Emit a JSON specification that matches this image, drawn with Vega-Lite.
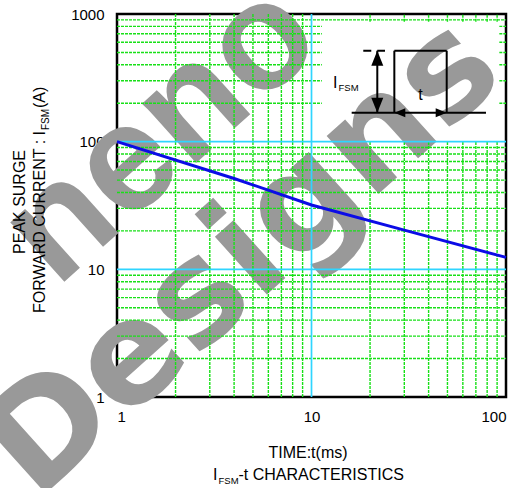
{
  "$schema": "https://vega.github.io/schema/vega-lite/v6.json",
  "width": 389,
  "height": 383,
  "autosize": {"type": "none"},
  "padding": {"left": 117, "top": 14, "right": 15, "bottom": 91},
  "background": "white",
  "config": {
    "view": {"stroke": "black", "strokeWidth": 2.5},
    "axis": {"grid": false, "ticks": false, "domain": false, "labelFont": "Liberation Sans", "labelFontSize": 15, "labelColor": "black", "zindex": 1},
    "text": {"font": "Liberation Sans", "color": "black"}
  },
  "datasets": {
    "one": [{}],
    "vgrid": [
      {"x": 2, "y1": 1, "y2": 1000}, {"x": 3, "y1": 1, "y2": 1000}, {"x": 4, "y1": 1, "y2": 1000}, {"x": 5, "y1": 1, "y2": 1000},
      {"x": 6, "y1": 1, "y2": 1000}, {"x": 7, "y1": 1, "y2": 1000}, {"x": 8, "y1": 1, "y2": 1000}, {"x": 9, "y1": 1, "y2": 1000},
      {"x": 20, "y1": 1, "y2": 100}, {"x": 20, "y1": 870, "y2": 1000},
      {"x": 30, "y1": 1, "y2": 100}, {"x": 30, "y1": 870, "y2": 1000},
      {"x": 40, "y1": 1, "y2": 100}, {"x": 40, "y1": 870, "y2": 1000},
      {"x": 50, "y1": 1, "y2": 100}, {"x": 50, "y1": 870, "y2": 1000},
      {"x": 60, "y1": 1, "y2": 100}, {"x": 60, "y1": 870, "y2": 1000},
      {"x": 70, "y1": 1, "y2": 100}, {"x": 70, "y1": 870, "y2": 1000},
      {"x": 80, "y1": 1, "y2": 100}, {"x": 80, "y1": 870, "y2": 1000},
      {"x": 90, "y1": 1, "y2": 100}, {"x": 90, "y1": 870, "y2": 1000}
    ],
    "hgrid": [
      {"y": 2, "x1": 1, "x2": 100}, {"y": 3, "x1": 1, "x2": 100}, {"y": 4, "x1": 1, "x2": 100}, {"y": 5, "x1": 1, "x2": 100},
      {"y": 6, "x1": 1, "x2": 100}, {"y": 7, "x1": 1, "x2": 100}, {"y": 8, "x1": 1, "x2": 100}, {"y": 9, "x1": 1, "x2": 100},
      {"y": 20, "x1": 1, "x2": 100}, {"y": 30, "x1": 1, "x2": 100}, {"y": 40, "x1": 1, "x2": 100}, {"y": 50, "x1": 1, "x2": 100},
      {"y": 60, "x1": 1, "x2": 100}, {"y": 70, "x1": 1, "x2": 100}, {"y": 80, "x1": 1, "x2": 100}, {"y": 90, "x1": 1, "x2": 100},
      {"y": 200, "x1": 1, "x2": 11.3}, {"y": 200, "x1": 92.4, "x2": 100},
      {"y": 300, "x1": 1, "x2": 11.3}, {"y": 300, "x1": 92.4, "x2": 100},
      {"y": 400, "x1": 1, "x2": 11.3}, {"y": 400, "x1": 92.4, "x2": 100},
      {"y": 500, "x1": 1, "x2": 11.3}, {"y": 500, "x1": 92.4, "x2": 100},
      {"y": 600, "x1": 1, "x2": 11.3}, {"y": 600, "x1": 92.4, "x2": 100},
      {"y": 700, "x1": 1, "x2": 11.3}, {"y": 700, "x1": 92.4, "x2": 100},
      {"y": 800, "x1": 1, "x2": 11.3}, {"y": 800, "x1": 92.4, "x2": 100},
      {"y": 900, "x1": 1, "x2": 100}
    ],
    "major": [{"y": 10}, {"y": 100}],
    "inset": [
      {"x": 16.09, "y": 168.6, "x2": 78.9, "y2": 168.6},
      {"x": 26.66, "y": 168.6, "x2": 26.66, "y2": 515.9},
      {"x": 26.66, "y": 515.9, "x2": 49.56, "y2": 515.9},
      {"x": 49.56, "y": 515.9, "x2": 49.56, "y2": 168.6},
      {"x": 21.79, "y": 168.6, "x2": 21.79, "y2": 515.9}
    ],
    "arrows": [
      {"x": 21.79, "y": 515.9, "dir": "up"},
      {"x": 21.79, "y": 168.6, "dir": "down"},
      {"x": 26.66, "y": 168.6, "dir": "left"},
      {"x": 49.56, "y": 168.6, "dir": "right"}
    ],
    "curve": [
      {"t": 1, "i": 100},
      {"t": 4, "i": 51.5},
      {"t": 10, "i": 31.9},
      {"t": 30, "i": 20.3},
      {"t": 100, "i": 12.4}
    ]
  },
  "layer": [
    {
      "data": {"name": "one"},
      "mark": {"type": "text", "text": "neno", "angle": -42, "font": "Liberation Sans", "fontWeight": "bold", "fontSize": 152, "color": "#999999", "align": "center", "baseline": "middle"},
      "encoding": {
        "x": {"datum": 1.674, "type": "quantitative", "scale": {"type": "log", "domain": [1, 100]}, "axis": {"values": [1, 10, 100], "format": "d", "title": null, "labelPadding": 12}},
        "y": {"datum": 116.9, "type": "quantitative", "scale": {"type": "log", "domain": [1, 1000]}, "axis": {"values": [1, 10, 100, 1000], "format": "d", "title": null, "labelPadding": 13}}
      }
    },
    {
      "data": {"name": "one"},
      "mark": {"type": "text", "text": "Designs", "angle": -42, "font": "DejaVu Sans", "fontWeight": "bold", "fontSize": 142, "color": "#999999", "align": "center", "baseline": "middle"},
      "encoding": {
        "x": {"datum": 4.444, "type": "quantitative", "scale": {"type": "log", "domain": [1, 100]}, "axis": {"values": [1, 10, 100], "format": "d", "title": null, "labelPadding": 12}},
        "y": {"datum": 12.27, "type": "quantitative", "scale": {"type": "log", "domain": [1, 1000]}, "axis": {"values": [1, 10, 100, 1000], "format": "d", "title": null, "labelPadding": 13}}
      }
    },
    {
      "data": {"name": "vgrid"},
      "mark": {"type": "rule", "color": "#18e018", "strokeWidth": 1.4, "strokeDash": [3, 1]},
      "encoding": {
        "x": {"field": "x", "type": "quantitative", "scale": {"type": "log", "domain": [1, 100]}, "axis": {"values": [1, 10, 100], "format": "d", "title": null, "labelPadding": 12}},
        "y": {"field": "y1", "type": "quantitative", "scale": {"type": "log", "domain": [1, 1000]}, "axis": {"values": [1, 10, 100, 1000], "format": "d", "title": null, "labelPadding": 13}},
        "y2": {"field": "y2"}
      }
    },
    {
      "data": {"name": "hgrid"},
      "mark": {"type": "rule", "color": "#18e018", "strokeWidth": 1.4, "strokeDash": [3, 1]},
      "encoding": {
        "y": {"field": "y", "type": "quantitative", "scale": {"type": "log", "domain": [1, 1000]}, "axis": {"values": [1, 10, 100, 1000], "format": "d", "title": null, "labelPadding": 13}},
        "x": {"field": "x1", "type": "quantitative", "scale": {"type": "log", "domain": [1, 100]}, "axis": {"values": [1, 10, 100], "format": "d", "title": null, "labelPadding": 12}},
        "x2": {"field": "x2"}
      }
    },
    {
      "data": {"name": "one"},
      "mark": {"type": "rule", "color": "#2fd5ff", "strokeWidth": 1.7},
      "encoding": {
        "x": {"datum": 10, "type": "quantitative", "scale": {"type": "log", "domain": [1, 100]}, "axis": {"values": [1, 10, 100], "format": "d", "title": null, "labelPadding": 12}}
      }
    },
    {
      "data": {"name": "major"},
      "mark": {"type": "rule", "color": "#2fd5ff", "strokeWidth": 1.7},
      "encoding": {
        "y": {"field": "y", "type": "quantitative", "scale": {"type": "log", "domain": [1, 1000]}, "axis": {"values": [1, 10, 100, 1000], "format": "d", "title": null, "labelPadding": 13}}
      }
    },
    {
      "data": {"name": "inset"},
      "mark": {"type": "rule", "color": "black", "strokeWidth": 2},
      "encoding": {
        "x": {"field": "x", "type": "quantitative", "scale": {"type": "log", "domain": [1, 100]}, "axis": {"values": [1, 10, 100], "format": "d", "title": null, "labelPadding": 12}},
        "y": {"field": "y", "type": "quantitative", "scale": {"type": "log", "domain": [1, 1000]}, "axis": {"values": [1, 10, 100, 1000], "format": "d", "title": null, "labelPadding": 13}},
        "x2": {"field": "x2"},
        "y2": {"field": "y2"}
      }
    },
    {
      "data": {"name": "one"},
      "mark": {"type": "rule", "color": "black", "strokeWidth": 2, "strokeDash": [8, 6]},
      "encoding": {
        "x": {"datum": 18.46, "type": "quantitative", "scale": {"type": "log", "domain": [1, 100]}, "axis": {"values": [1, 10, 100], "format": "d", "title": null, "labelPadding": 12}},
        "x2": {"datum": 23.87},
        "y": {"datum": 515.9, "type": "quantitative", "scale": {"type": "log", "domain": [1, 1000]}, "axis": {"values": [1, 10, 100, 1000], "format": "d", "title": null, "labelPadding": 13}}
      }
    },
    {
      "data": {"name": "arrows"},
      "mark": {"type": "point", "filled": true, "color": "black", "opacity": 1, "size": 100, "strokeWidth": 0},
      "encoding": {
        "x": {"field": "x", "type": "quantitative", "scale": {"type": "log", "domain": [1, 100]}, "axis": {"values": [1, 10, 100], "format": "d", "title": null, "labelPadding": 12}},
        "y": {"field": "y", "type": "quantitative", "scale": {"type": "log", "domain": [1, 1000]}, "axis": {"values": [1, 10, 100, 1000], "format": "d", "title": null, "labelPadding": 13}},
        "shape": {"field": "dir", "type": "nominal", "legend": null,
          "scale": {"domain": ["up", "down", "left", "right"],
                    "range": ["M0,0L1.2,3L-1.2,3Z", "M0,0L1.2,-3L-1.2,-3Z", "M0,0L2.2,-0.9L2.2,0.9Z", "M0,0L-2.2,-0.9L-2.2,0.9Z"]}}
      }
    },
    {
      "data": {"name": "one"},
      "mark": {"type": "text", "text": "I", "fontSize": 16, "align": "right", "baseline": "alphabetic"},
      "encoding": {
        "x": {"datum": 13.61, "type": "quantitative", "scale": {"type": "log", "domain": [1, 100]}, "axis": {"values": [1, 10, 100], "format": "d", "title": null, "labelPadding": 12}},
        "y": {"datum": 261.8, "type": "quantitative", "scale": {"type": "log", "domain": [1, 1000]}, "axis": {"values": [1, 10, 100, 1000], "format": "d", "title": null, "labelPadding": 13}}
      }
    },
    {
      "data": {"name": "one"},
      "mark": {"type": "text", "text": "FSM", "fontSize": 9.5, "align": "left", "baseline": "alphabetic", "dx": 1, "dy": 3},
      "encoding": {
        "x": {"datum": 13.61, "type": "quantitative", "scale": {"type": "log", "domain": [1, 100]}, "axis": {"values": [1, 10, 100], "format": "d", "title": null, "labelPadding": 12}},
        "y": {"datum": 261.8, "type": "quantitative", "scale": {"type": "log", "domain": [1, 1000]}, "axis": {"values": [1, 10, 100, 1000], "format": "d", "title": null, "labelPadding": 13}}
      }
    },
    {
      "data": {"name": "one"},
      "mark": {"type": "text", "text": "t", "fontSize": 16, "align": "center", "baseline": "alphabetic"},
      "encoding": {
        "x": {"datum": 36.35, "type": "quantitative", "scale": {"type": "log", "domain": [1, 100]}, "axis": {"values": [1, 10, 100], "format": "d", "title": null, "labelPadding": 12}},
        "y": {"datum": 212.1, "type": "quantitative", "scale": {"type": "log", "domain": [1, 1000]}, "axis": {"values": [1, 10, 100, 1000], "format": "d", "title": null, "labelPadding": 13}}
      }
    },
    {
      "data": {"name": "curve"},
      "mark": {"type": "line", "color": "#0c0ce6", "strokeWidth": 3},
      "encoding": {
        "x": {"field": "t", "type": "quantitative", "scale": {"type": "log", "domain": [1, 100]}, "axis": {"values": [1, 10, 100], "format": "d", "title": null, "labelPadding": 12}},
        "y": {"field": "i", "type": "quantitative", "scale": {"type": "log", "domain": [1, 1000]}, "axis": {"values": [1, 10, 100, 1000], "format": "d", "title": null, "labelPadding": 13}}
      }
    },
    {
      "data": {"name": "one"},
      "mark": {"type": "text", "text": "PEAK SURGE", "fontSize": 16, "angle": -90, "align": "center", "baseline": "alphabetic"},
      "encoding": {
        "x": {"datum": 0.3385, "type": "quantitative", "scale": {"type": "log", "domain": [1, 100]}, "axis": {"values": [1, 10, 100], "format": "d", "title": null, "labelPadding": 12}},
        "y": {"datum": 33.69, "type": "quantitative", "scale": {"type": "log", "domain": [1, 1000]}, "axis": {"values": [1, 10, 100, 1000], "format": "d", "title": null, "labelPadding": 13}}
      }
    },
    {
      "data": {"name": "one"},
      "mark": {"type": "text", "text": "FORWARD CURRENT : I", "fontSize": 16, "angle": -90, "align": "right", "baseline": "alphabetic"},
      "encoding": {
        "x": {"datum": 0.4264, "type": "quantitative", "scale": {"type": "log", "domain": [1, 100]}, "axis": {"values": [1, 10, 100], "format": "d", "title": null, "labelPadding": 12}},
        "y": {"datum": 121.2, "type": "quantitative", "scale": {"type": "log", "domain": [1, 1000]}, "axis": {"values": [1, 10, 100, 1000], "format": "d", "title": null, "labelPadding": 13}}
      }
    },
    {
      "data": {"name": "one"},
      "mark": {"type": "text", "text": "FSM", "fontSize": 10, "angle": -90, "align": "left", "baseline": "alphabetic", "dx": 1, "dy": 4},
      "encoding": {
        "x": {"datum": 0.4264, "type": "quantitative", "scale": {"type": "log", "domain": [1, 100]}, "axis": {"values": [1, 10, 100], "format": "d", "title": null, "labelPadding": 12}},
        "y": {"datum": 121.2, "type": "quantitative", "scale": {"type": "log", "domain": [1, 1000]}, "axis": {"values": [1, 10, 100, 1000], "format": "d", "title": null, "labelPadding": 13}}
      }
    },
    {
      "data": {"name": "one"},
      "mark": {"type": "text", "text": "(A)", "fontSize": 16, "angle": -90, "align": "left", "baseline": "alphabetic", "dx": 23},
      "encoding": {
        "x": {"datum": 0.4264, "type": "quantitative", "scale": {"type": "log", "domain": [1, 100]}, "axis": {"values": [1, 10, 100], "format": "d", "title": null, "labelPadding": 12}},
        "y": {"datum": 121.2, "type": "quantitative", "scale": {"type": "log", "domain": [1, 1000]}, "axis": {"values": [1, 10, 100, 1000], "format": "d", "title": null, "labelPadding": 13}}
      }
    },
    {
      "data": {"name": "one"},
      "mark": {"type": "text", "text": "TIME:t(ms)", "fontSize": 16, "align": "center", "baseline": "alphabetic"},
      "encoding": {
        "x": {"datum": 9.594, "type": "quantitative", "scale": {"type": "log", "domain": [1, 100]}, "axis": {"values": [1, 10, 100], "format": "d", "title": null, "labelPadding": 12}},
        "y": {"datum": 0.3328, "type": "quantitative", "scale": {"type": "log", "domain": [1, 1000]}, "axis": {"values": [1, 10, 100, 1000], "format": "d", "title": null, "labelPadding": 13}}
      }
    },
    {
      "data": {"name": "one"},
      "mark": {"type": "text", "text": "I", "fontSize": 16, "align": "right", "baseline": "alphabetic"},
      "encoding": {
        "x": {"datum": 3.287, "type": "quantitative", "scale": {"type": "log", "domain": [1, 100]}, "axis": {"values": [1, 10, 100], "format": "d", "title": null, "labelPadding": 12}},
        "y": {"datum": 0.2238, "type": "quantitative", "scale": {"type": "log", "domain": [1, 1000]}, "axis": {"values": [1, 10, 100, 1000], "format": "d", "title": null, "labelPadding": 13}}
      }
    },
    {
      "data": {"name": "one"},
      "mark": {"type": "text", "text": "FSM", "fontSize": 9.5, "align": "left", "baseline": "alphabetic", "dx": 1, "dy": 4},
      "encoding": {
        "x": {"datum": 3.287, "type": "quantitative", "scale": {"type": "log", "domain": [1, 100]}, "axis": {"values": [1, 10, 100], "format": "d", "title": null, "labelPadding": 12}},
        "y": {"datum": 0.2238, "type": "quantitative", "scale": {"type": "log", "domain": [1, 1000]}, "axis": {"values": [1, 10, 100, 1000], "format": "d", "title": null, "labelPadding": 13}}
      }
    },
    {
      "data": {"name": "one"},
      "mark": {"type": "text", "text": "-t CHARACTERISTICS", "fontSize": 16, "align": "left", "baseline": "alphabetic", "dx": 21},
      "encoding": {
        "x": {"datum": 3.287, "type": "quantitative", "scale": {"type": "log", "domain": [1, 100]}, "axis": {"values": [1, 10, 100], "format": "d", "title": null, "labelPadding": 12}},
        "y": {"datum": 0.2238, "type": "quantitative", "scale": {"type": "log", "domain": [1, 1000]}, "axis": {"values": [1, 10, 100, 1000], "format": "d", "title": null, "labelPadding": 13}}
      }
    }
  ]
}
